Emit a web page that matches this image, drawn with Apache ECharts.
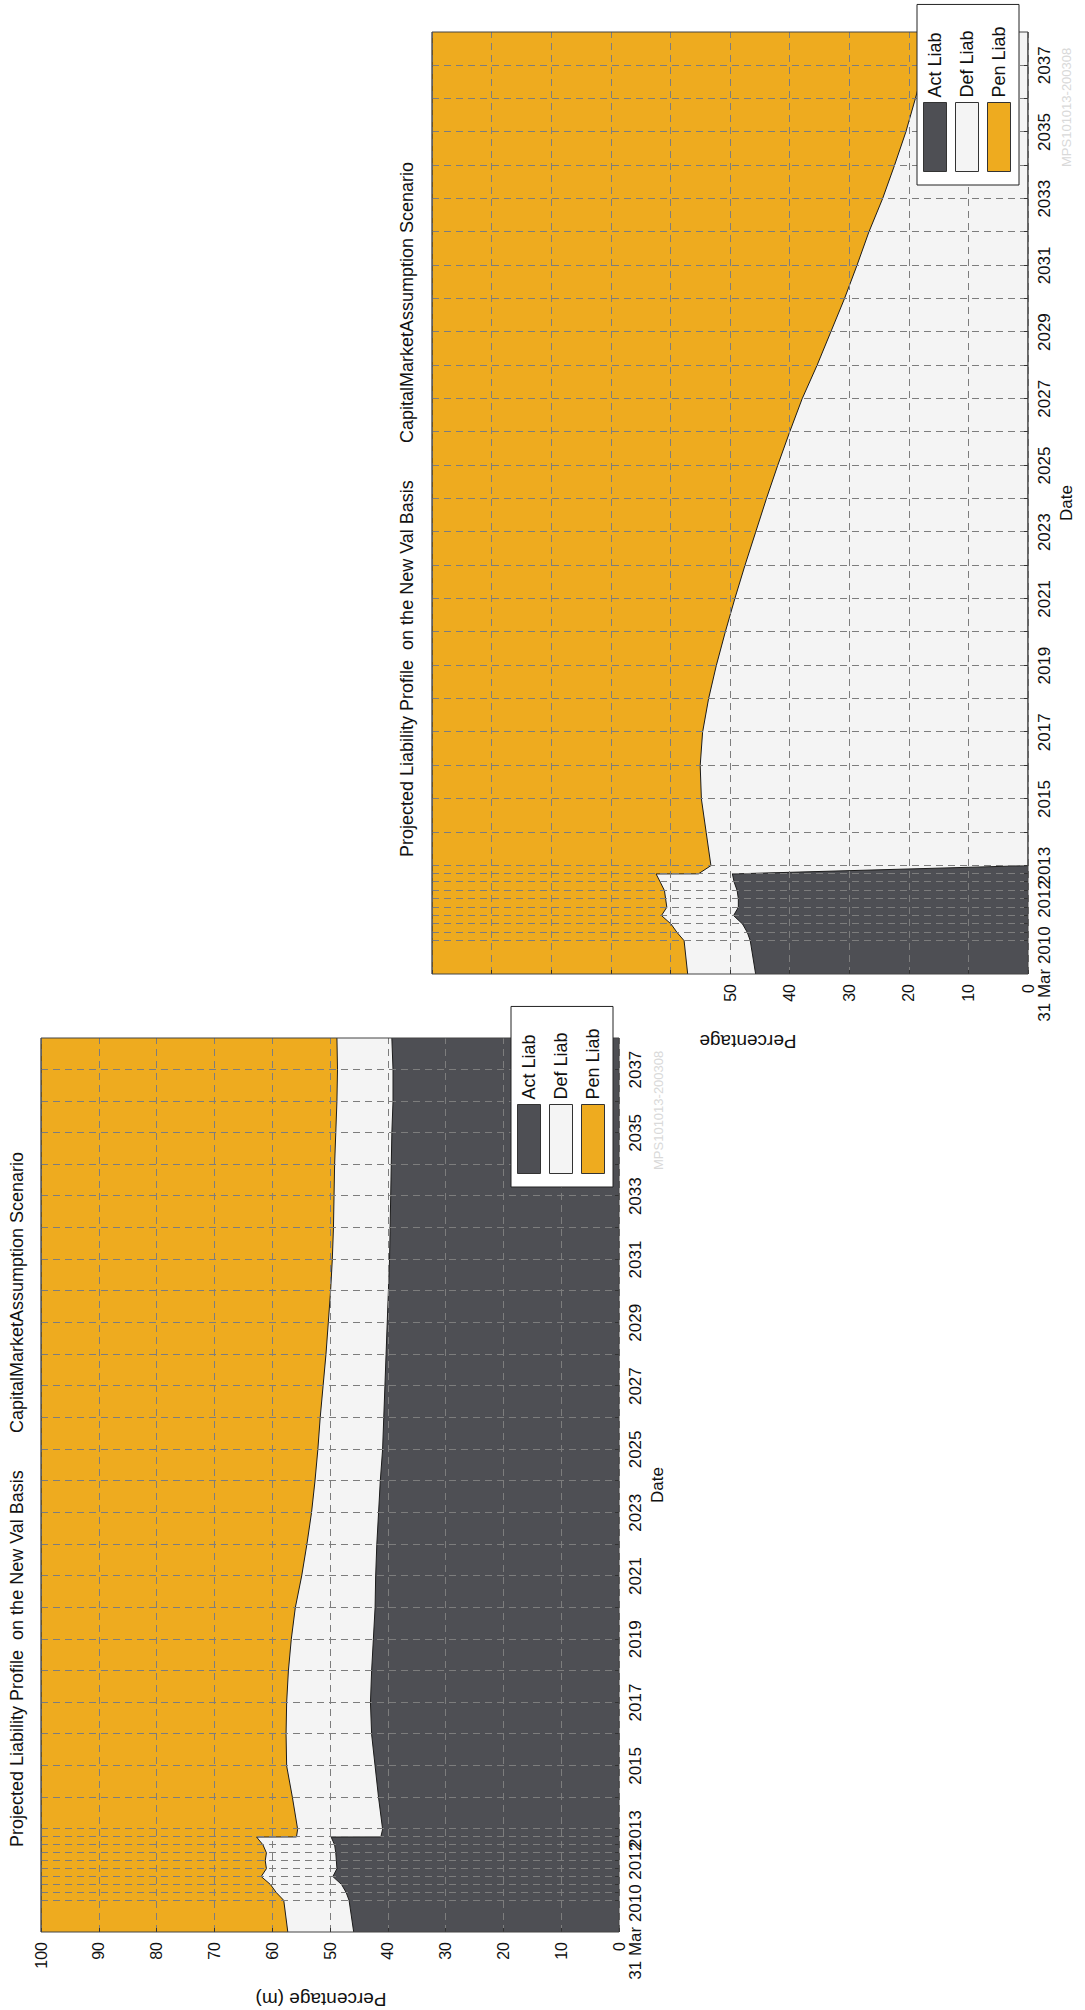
<!DOCTYPE html>
<html>
<head>
<meta charset="utf-8">
<script src="https://cdn.jsdelivr.net/npm/echarts@6/dist/echarts.min.js"></script>
<style>
  html, body { margin: 0; padding: 0; background: #fff; width: 1085px; height: 2010px; overflow: hidden; }
  /* the figure is laid out landscape and turned a quarter turn to fit the portrait page */
  #page { position: absolute; left: 0; top: 0; width: 2010px; height: 1085px;
          transform-origin: 0 0; transform: translateY(2010px) rotate(-90deg); background: #fff; }
</style>
</head>
<body>
<div id="page"></div>
<script>
// Projection dates: yearly start, quarterly 2011-2013, then annual at 30 June
const dates = [
  '2010-03-31', '2011-03-31', '2011-06-30', '2011-09-30', '2011-12-31',
  '2012-03-31', '2012-06-30', '2012-09-30', '2012-12-31', '2013-03-31',
  '2013-04-01', '2013-06-30', '2014-06-30', '2015-06-30', '2016-06-30',
  '2017-06-30', '2018-06-30', '2019-06-30', '2020-06-30', '2021-06-30',
  '2022-06-30', '2023-06-30', '2024-06-30', '2025-06-30', '2026-06-30',
  '2027-06-30', '2028-06-30', '2029-06-30', '2030-06-30', '2031-06-30',
  '2032-06-30', '2033-06-30', '2034-06-30', '2035-06-30', '2036-06-30',
  '2037-06-30', '2038-06-30'
];

// Date axis tick labels
const labelDates = ['2010-03-31', '2012-06-30', '2013-06-30', '2015-06-30', '2017-06-30',
  '2019-06-30', '2021-06-30', '2023-06-30', '2025-06-30', '2027-06-30', '2029-06-30',
  '2031-06-30', '2033-06-30', '2035-06-30', '2037-06-30'];
const labelTexts = ['31 Mar 2010', '2012', '2013', '2015', '2017', '2019', '2021', '2023',
  '2025', '2027', '2029', '2031', '2033', '2035', '2037'];

// Percentage axis tick labels
const pctTicks = [0, 10, 20, 30, 40, 50, 60, 70, 80, 90, 100];

// Base scenario (left panel), % of total liability
const actLiabBase = [45.9, 46.7, 47.2, 48.0, 49.5, 48.8, 48.9, 49.0, 49.2, 49.8,
  41.2, 40.9, 41.6, 42.2, 42.8, 43.0, 42.8, 42.5, 42.2, 42.1,
  41.9, 41.6, 41.3, 40.9, 40.7, 40.5, 40.3, 40.1, 39.9, 39.7,
  39.6, 39.5, 39.4, 39.3, 39.1, 39.1, 39.3];
const defLiabBase = [11.4, 11.3, 12.1, 12.3, 12.4, 12.2, 12.3, 12.0, 12.4, 12.9,
  14.6, 14.7, 14.9, 15.3, 14.8, 14.5, 14.4, 14.2, 13.8, 12.8,
  12.1, 11.6, 11.3, 11.2, 11.0, 10.7, 10.4, 10.2, 10.0, 9.9,
  9.8, 9.8, 9.8, 9.7, 9.7, 9.6, 9.5];
const penLiabBase = [42.7, 42.0, 40.7, 39.7, 38.1, 39.0, 38.8, 39.0, 38.4, 37.3,
  44.2, 44.4, 43.5, 42.5, 42.4, 42.5, 42.8, 43.3, 44.0, 45.1,
  46.0, 46.8, 47.4, 47.9, 48.3, 48.8, 49.3, 49.7, 50.1, 50.4,
  50.6, 50.7, 50.8, 51.0, 51.2, 51.3, 51.2];

// Alternative scenario (right panel), % of total liability
const actLiabAlt = [45.7, 46.6, 47.1, 47.9, 49.4, 48.6, 48.6, 48.8, 49.3, 49.6,
  49.6, 0, 0, 0, 0, 0, 0, 0, 0, 0,
  0, 0, 0, 0, 0, 0, 0, 0, 0, 0,
  0, 0, 0, 0, 0, 0, 0];
const defLiabAlt = [11.4, 11.1, 11.8, 12.0, 12.1, 12.0, 12.2, 12.2, 12.4, 12.8,
  5.7, 53.2, 54.0, 54.8, 55.0, 54.6, 53.6, 52.3, 50.8, 49.2,
  47.5, 45.7, 43.9, 42.0, 40.0, 37.9, 35.4, 33.1, 30.8, 28.7,
  26.7, 24.4, 22.4, 20.5, 18.9, 17.4, 16.0];
const penLiabAlt = [42.9, 42.3, 41.1, 40.1, 38.5, 39.4, 39.2, 39.0, 38.3, 37.6,
  44.7, 46.8, 46.0, 45.2, 45.0, 45.4, 46.4, 47.7, 49.2, 50.8,
  52.5, 54.3, 56.1, 58.0, 60.0, 62.1, 64.6, 66.9, 69.2, 71.3,
  73.3, 75.6, 77.6, 79.5, 81.1, 82.6, 84.0];

const seriesNames = ['Act Liab', 'Def Liab', 'Pen Liab'];
const seriesColors = ['#4e4f54', '#f4f4f4', '#eeab1f'];
const titleLeftText = 'Projected Liability Profile  on the New Val Basis';
const titleRightText = 'CapitalMarketAssumption Scenario';
const stampText = 'MPS101013-200308';

const FONT = "'Liberation Sans', Arial, Helvetica, sans-serif";
const ts = s => new Date(s + 'T00:00:00').getTime();
const dateTs = dates.map(ts);
const gridTs = dates.filter((d, i) => i > 0 && i < dates.length - 1 && d !== '2013-04-01').map(ts);
const labelTs = labelDates.map(ts);
const labelMap = {};
labelTs.forEach((t, i) => { labelMap[t] = labelTexts[i]; });

const gridLine = { show: true, lineStyle: { color: '#7d7d7d', width: 1, type: [7, 5] } };

function dateAxis(gi) {
  return {
    type: 'value', gridIndex: gi, min: ts(dates[0]), max: ts(dates[dates.length - 1]),
    name: 'Date', nameLocation: 'middle', nameGap: 30,
    nameTextStyle: { fontFamily: FONT, fontSize: 17, color: '#111' },
    axisLine: { show: false },
    axisTick: { show: true, inside: true, length: 4, customValues: gridTs, lineStyle: { color: '#333' } },
    axisLabel: {
      customValues: labelTs, fontFamily: FONT, fontSize: 17, color: '#111', margin: 8,
      hideOverlap: false, showMinLabel: true, showMaxLabel: true,
      formatter: v => (labelMap[v] !== undefined ? labelMap[v] : '')
    },
    splitLine: gridLine,
    z: 5
  };
}

function pctAxis(gi, maxLabel, name, gap, pad) {
  return {
    type: 'value', gridIndex: gi, min: 0, max: 100, interval: 10,
    name: name, nameLocation: 'middle', nameGap: gap,
    nameTextStyle: { fontFamily: FONT, fontSize: 19, color: '#111', padding: pad },
    axisLine: { show: false },
    axisTick: { show: true, inside: true, length: 4, lineStyle: { color: '#333' } },
    axisLabel: {
      fontFamily: FONT, fontSize: 16, color: '#111', margin: 10,
      formatter: v => (pctTicks.indexOf(v) >= 0 && v <= maxLabel ? String(v) : '')
    },
    splitLine: gridLine,
    z: 5
  };
}

// Stacked areas: each layer is drawn from the axis up to the running total,
// the topmost layer first so the lower ones sit over it.
function areaSeries(gi, values) {
  const out = [];
  values.forEach((vals, k) => {
    const tops = vals.map((v, i) => {
      let s = 0;
      for (let j = 0; j <= k; j++) s += values[j][i];
      return Math.round(s * 100) / 100;
    });
    out.push({
      name: seriesNames[k], type: 'line', xAxisIndex: gi, yAxisIndex: gi,
      symbol: 'none', smooth: false, color: seriesColors[k],
      lineStyle: { color: '#1c1c1c', width: 1 },
      areaStyle: { color: seriesColors[k], opacity: 1, origin: 'start' },
      itemStyle: { color: seriesColors[k] },
      emphasis: { disabled: true },
      data: tops.map((v, i) => [dateTs[i], v]),
      z: 4 - k
    });
  });
  return out.reverse();
}

function legendAt(left, top) {
  return {
    orient: 'vertical', left: left, top: top, padding: [6, 22, 8, 13],
    itemWidth: 69, itemHeight: 23, itemGap: 8, icon: 'rect', selectedMode: false,
    backgroundColor: '#fff', borderColor: '#222', borderWidth: 1, borderRadius: 0,
    textStyle: { fontFamily: FONT, fontSize: 18, color: '#111' },
    itemStyle: { borderColor: '#333', borderWidth: 1 },
    data: seriesNames.map((n, k) => ({ name: n, itemStyle: { color: seriesColors[k] } })),
    z: 10
  };
}

const titleStyle = { fontFamily: FONT, fontSize: 18, fontWeight: 'normal', color: '#111' };

const chart = echarts.init(document.getElementById('page'), null, { renderer: 'svg', width: 2010, height: 1085 });
chart.setOption({
  animation: false,
  backgroundColor: '#fff',
  title: [
    { text: titleLeftText, left: 163, top: 8, padding: 0, textStyle: titleStyle },
    { text: titleRightText, left: 577, top: 8, padding: 0, textStyle: titleStyle },
    { text: titleLeftText, left: 1153, top: 398, padding: 0, textStyle: titleStyle },
    { text: titleRightText, left: 1567, top: 398, padding: 0, textStyle: titleStyle }
  ],
  grid: [
    { left: 57, top: 41, width: 915, height: 578, show: true, borderColor: '#444', borderWidth: 1, backgroundColor: 'transparent', z: 6 },
    { left: 1036, top: 432, width: 942, height: 596, show: true, borderColor: '#444', borderWidth: 1, backgroundColor: 'transparent', z: 6 }
  ],
  xAxis: [dateAxis(0), dateAxis(1)],
  yAxis: [
    pctAxis(0, 100, 'Percentage (m)', 58, [0, 0, 0, 18]),
    pctAxis(1, 50, 'Percentage', 58, [0, 36, 0, 0])
  ],
  legend: [legendAt(823, 511), legendAt(1825, 917)],
  graphic: [
    { type: 'text', left: 840, top: 652, z: 1, style: { text: stampText, fontFamily: FONT, fontSize: 13, fill: '#d9d9d9' } },
    { type: 'text', left: 1843, top: 1060, z: 1, style: { text: stampText, fontFamily: FONT, fontSize: 13, fill: '#d9d9d9' } }
  ],
  series: [].concat(
    areaSeries(0, [actLiabBase, defLiabBase, penLiabBase]),
    areaSeries(1, [actLiabAlt, defLiabAlt, penLiabAlt])
  )
});
</script>
</body>
</html>
